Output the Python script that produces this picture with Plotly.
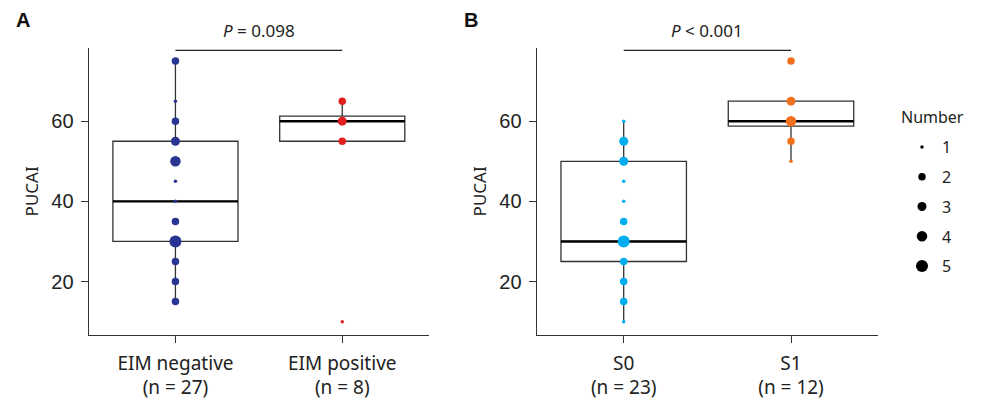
import plotly.graph_objects as go

# ---------------- data ----------------
# Panel A: EIM negative / EIM positive
a_categories = ["EIM negative", "EIM positive"]
a_tick_labels = ["EIM negative<br>(n = 27)", "EIM positive<br>(n = 8)"]
a_neg_values = [75, 65, 60, 55, 50, 45, 40, 35, 30, 25, 20, 15]
a_neg_counts = [2, 1, 2, 3, 4, 1, 1, 2, 5, 2, 2, 2]
a_pos_values = [65, 60, 55, 10]
a_pos_counts = [2, 3, 2, 1]
a_q1 = [30, 55]
a_median = [40, 60]
a_q3 = [55, 61.25]
a_lower = [15, 55]
a_upper = [75, 65]
a_p_text = "<i>P</i> = 0.098"

# Panel B: S0 / S1
b_categories = ["S0", "S1"]
b_tick_labels = ["S0<br>(n = 23)", "S1<br>(n = 12)"]
b_s0_values = [60, 55, 50, 45, 40, 35, 30, 25, 20, 15, 10]
b_s0_counts = [1, 3, 3, 1, 1, 2, 5, 2, 2, 2, 1]
b_s1_values = [75, 65, 60, 55, 50]
b_s1_counts = [2, 3, 4, 2, 1]
b_q1 = [25, 58.75]
b_median = [30, 60]
b_q3 = [50, 65]
b_lower = [10, 50]
b_upper = [60, 65]
b_p_text = "<i>P</i> < 0.001"

legend_title = "Number"
legend_numbers = [1, 2, 3, 4, 5]
y_ticks = [20, 40, 60]

# ---------------- style ----------------
SIZE_PX = {1: 3.5, 2: 7.5, 3: 9, 4: 10.5, 5: 12}
COL_A = ["#283593", "#E0201F"]
COL_B = ["#00AEEF", "#F0701E"]
LINE = "#333333"
BOX_W = 0.75
TXT_FONT = "Noto Sans"
NUM_FONT = "Liberation Sans"

# page has an 8px body margin: figure pixels = page pixels - 8
OFF = 8
W, H = 984 - OFF, 403 - OFF


def px(xpage):
    return (xpage - OFF) / W


def py(ypage):
    return 1 - (ypage - OFF) / H


fig = go.Figure()


def add_panel(xa, ya, q1, med, q3, lo, hi, groups, colors):
    xref = "x" if xa == 1 else f"x{xa}"
    yref = "y" if ya == 1 else f"y{ya}"
    idx = list(range(len(q1)))
    fig.add_trace(go.Box(
        x=idx, q1=q1, median=med, q3=q3, lowerfence=lo, upperfence=hi,
        width=BOX_W, whiskerwidth=0, boxpoints=False,
        fillcolor="rgba(0,0,0,0)", line=dict(color=LINE, width=1.3),
        xaxis=xref, yaxis=yref, showlegend=False, hoverinfo="skip"))
    # thicker median line
    mx, my = [], []
    for i, m in zip(idx, med):
        mx += [i - BOX_W / 2, i + BOX_W / 2, None]
        my += [m, m, None]
    fig.add_trace(go.Scatter(x=mx, y=my, mode="lines",
                             line=dict(color="#000000", width=2.4),
                             xaxis=xref, yaxis=yref, showlegend=False,
                             hoverinfo="skip"))
    for i, ((vals, cnts), col) in enumerate(zip(groups, colors)):
        fig.add_trace(go.Scatter(
            x=[i] * len(vals), y=vals, mode="markers",
            marker=dict(color=col, size=[SIZE_PX[c] for c in cnts],
                        opacity=1, line=dict(width=0)),
            xaxis=xref, yaxis=yref, showlegend=False))


add_panel(1, 1, a_q1, a_median, a_q3, a_lower, a_upper,
          [(a_neg_values, a_neg_counts), (a_pos_values, a_pos_counts)], COL_A)
add_panel(2, 2, b_q1, b_median, b_q3, b_lower, b_upper,
          [(b_s0_values, b_s0_counts), (b_s1_values, b_s1_counts)], COL_B)

# size legend
for n in legend_numbers:
    fig.add_trace(go.Scatter(
        x=[None], y=[None], mode="markers", name=str(n),
        marker=dict(color="#000000", size=SIZE_PX[n], opacity=1),
        legendgroup=f"g{n}", showlegend=True, xaxis="x2", yaxis="y2"))

yd = [py(334.7), py(48)]

common_x = dict(range=[-0.52, 1.52], tickvals=[0, 1], showgrid=False,
                zeroline=False, showline=True, linecolor=LINE, linewidth=1.3,
                ticks="outside", ticklen=7, tickwidth=1.3, tickcolor=LINE,
                automargin=False, ticklabelstandoff=4,
                tickfont=dict(family=TXT_FONT, size=19, color="#222222"))
common_y = dict(range=[6.75, 78.25], tickvals=y_ticks, showgrid=False,
                zeroline=False, showline=True, linecolor=LINE, linewidth=1.3,
                ticks="outside", ticklen=7, tickwidth=1.3, tickcolor=LINE,
                automargin=False, ticklabelstandoff=3,
                tickfont=dict(family=NUM_FONT, size=20, color="#222222"),
                title=dict(text="PUCAI", font=dict(family=TXT_FONT, size=17,
                                                   color="#222222"),
                           standoff=8))

fig.update_layout(
    width=W, height=H, margin=dict(l=0, r=0, t=0, b=0, autoexpand=False),
    paper_bgcolor="white", plot_bgcolor="white",
    xaxis=dict(domain=[px(88.7), px(429)], ticktext=a_tick_labels, anchor="y",
               **common_x),
    yaxis=dict(domain=yd, anchor="x", **common_y),
    xaxis2=dict(domain=[px(536.7), px(878)], ticktext=b_tick_labels,
                anchor="y2", **common_x),
    yaxis2=dict(domain=yd, anchor="x2", **common_y),
    showlegend=True,
    legend=dict(x=px(902), y=py(130), xanchor="left", yanchor="top",
                font=dict(family=TXT_FONT, size=16, color="#222222"),
                tracegroupgap=6, itemsizing="trace", bgcolor="rgba(0,0,0,0)"),
)

fig.add_annotation(text=legend_title, xref="paper", yref="paper",
                   x=px(899), y=py(117), xanchor="left", yanchor="middle",
                   showarrow=False,
                   font=dict(family=TXT_FONT, size=16, color="#222222"))

# panel letters
fig.add_annotation(text="<b>A</b>", xref="paper", yref="paper", x=px(14),
                   y=py(20), xanchor="left", yanchor="middle",
                   showarrow=False, font=dict(family=NUM_FONT, size=20,
                                              color="#111111"))
fig.add_annotation(text="<b>B</b>", xref="paper", yref="paper", x=px(462),
                   y=py(20), xanchor="left", yanchor="middle",
                   showarrow=False, font=dict(family=NUM_FONT, size=20,
                                              color="#111111"))

# significance brackets
for xr, ptxt in (("x", a_p_text), ("x2", b_p_text)):
    fig.add_shape(type="line", xref=xr, yref="paper", x0=0, x1=1,
                  y0=py(50.3), y1=py(50.3),
                  line=dict(color="#222222", width=1.3))
    fig.add_annotation(text=ptxt, xref=xr, yref="paper", x=0.5, y=py(31),
                       xanchor="center", yanchor="middle", showarrow=False,
                       font=dict(family=TXT_FONT, size=17, color="#222222"))

fig.write_html("out.html")
